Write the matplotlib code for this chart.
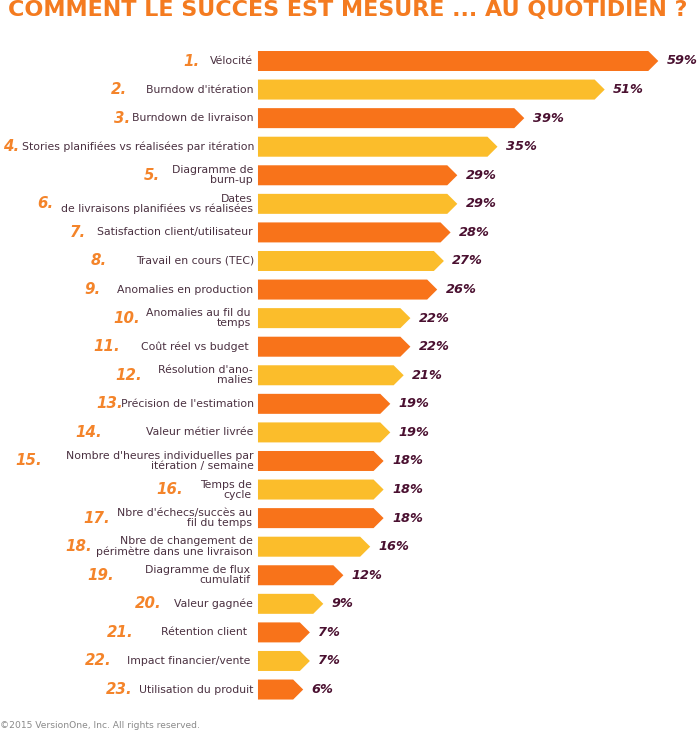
import matplotlib
matplotlib.use("Agg")
import matplotlib.pyplot as plt
from matplotlib.patches import Polygon

# ---------------- data ----------------
ranks = [f"{i}." for i in range(1, 24)]
labels = [
    "Vélocité",
    "Burndow d'itération",
    "Burndown de livraison",
    "Stories planifiées vs réalisées par itération",
    "Diagramme de\nburn-up",
    "Dates\nde livraisons planifiées vs réalisées",
    "Satisfaction client/utilisateur",
    "Travail en cours (TEC)",
    "Anomalies en production",
    "Anomalies au fil du\ntemps",
    "Coût réel vs budget",
    "Résolution d'ano-\nmalies",
    "Précision de l'estimation",
    "Valeur métier livrée",
    "Nombre d'heures individuelles par\nitération / semaine",
    "Temps de\ncycle",
    "Nbre d'échecs/succès au\nfil du temps",
    "Nbre de changement de\npérimètre dans une livraison",
    "Diagramme de flux\ncumulatif",
    "Valeur gagnée",
    "Rétention client",
    "Impact financier/vente",
    "Utilisation du produit",
]
values = [59, 51, 39, 35, 29, 29, 28, 27, 26, 22, 22, 21, 19, 19, 18, 18, 18, 16, 12, 9, 7, 7, 6]
title = "COMMENT LE SUCCÈS EST MESURÉ ... AU QUOTIDIEN ?"
footer = "©2015 VersionOne, Inc. All rights reserved."

# ---------------- layout / style ----------------
W, H = 700, 730
DPI = 100
PX_PER_UNIT = 6.7          # pixels per percentage point
ZERO_PX = 263              # pixel x of value 0
ROW0_PX = 61               # pixel y (from top) of first bar center
ROW_STEP = 28.57           # pixels between rows
BAR_H = 0.70               # bar height in row units
TIP = 1.5                  # arrow tip length in value units
BAR_START = -0.75          # bar start in value units
label_x_px = [253, 253, 253, 254, 253, 253, 253, 254, 253, 251, 249, 253, 254,
              253, 254, 252, 252, 253, 250, 253, 247, 250, 253]
rank_x_px = [183, 111, 114, 3, 144, 37, 70, 91, 84, 113, 93, 115, 96, 75,
             15, 156, 83, 65, 87, 135, 107, 85, 106]

C_DARK = "#F8731A"
C_LIGHT = "#FBBD2B"
C_RANK = "#F4842A"
C_LABEL = "#4A3040"
C_PCT = "#4A1030"

fig = plt.figure(figsize=(W / DPI, H / DPI), dpi=DPI)
ax = fig.add_axes([0, 0, 1, 1])
ax.set_xlim(-ZERO_PX / PX_PER_UNIT, (W - ZERO_PX) / PX_PER_UNIT)
ax.set_ylim((H - ROW0_PX) / ROW_STEP, -ROW0_PX / ROW_STEP)
ax.axis("off")

px_to_x = lambda px: (px - ZERO_PX) / PX_PER_UNIT

for i, (v, lab, rk) in enumerate(zip(values, labels, ranks)):
    color = C_DARK if i % 2 == 0 else C_LIGHT
    h = BAR_H / 2
    body_end = max(v - TIP, BAR_START)
    poly = Polygon([(BAR_START, i - h), (body_end, i - h), (v, i),
                    (body_end, i + h), (BAR_START, i + h)],
                   closed=True, facecolor=color, edgecolor="none")
    ax.add_patch(poly)
    ax.text(px_to_x(label_x_px[i]), i, lab, ha="right", va="center",
            fontsize=7.85, color=C_LABEL, linespacing=1.0,
            multialignment="right", family="DejaVu Sans")
    ax.text(px_to_x(rank_x_px[i]), i, rk, ha="left", va="center",
            fontsize=10.8, color=C_RANK, fontweight="bold", fontstyle="italic",
            family="DejaVu Sans")
    ax.text(v + 1.25, i, f"{v}%", ha="left", va="center",
            fontsize=9.3, color=C_PCT, fontweight="bold", fontstyle="italic",
            family="DejaVu Sans")

fig.text(8 / W, 1 - 16 / H, title, ha="left", va="baseline",
         fontsize=16, fontweight="bold", color="#F47B20", family="DejaVu Sans")
fig.text(0 / W, 1 - 725 / H, footer, ha="left", va="center",
         fontsize=6.6, color="#8A8A8A", family="DejaVu Sans")

fig.savefig("out.png", dpi=DPI)
